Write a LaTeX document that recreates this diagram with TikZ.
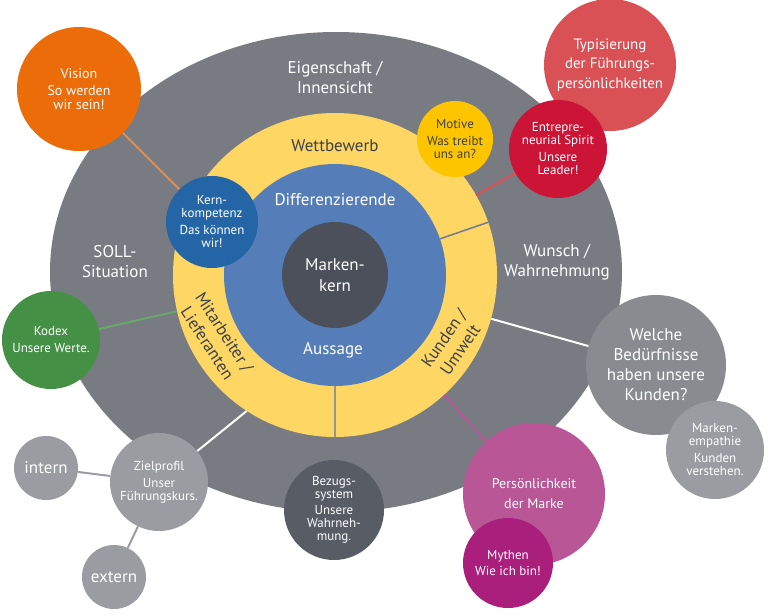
\documentclass[tikz,border=0pt]{standalone}
\usepackage{fontspec}
\setmainfont{PT Sans}
\usepackage{xcolor}
\definecolor{ellgray}{HTML}{797B83}
\definecolor{ringyellow}{HTML}{FDD663}
\definecolor{innerblue}{HTML}{557EB9}
\definecolor{coregray}{HTML}{4B505A}
\definecolor{darktext}{HTML}{3D4149}
\definecolor{visionorange}{HTML}{EC6C0A}
\definecolor{kernblue}{HTML}{2465A6}
\definecolor{kodexgreen}{HTML}{449146}
\definecolor{typred}{HTML}{D95155}
\definecolor{entrered}{HTML}{CC1436}
\definecolor{motiveyellow}{HTML}{FDC400}
\definecolor{welchegray}{HTML}{8A8B90}
\definecolor{lightgray}{HTML}{9B9CA1}
\definecolor{perspink}{HTML}{B85696}
\definecolor{mythenpurple}{HTML}{AB1F7C}
\definecolor{bezugsgray}{HTML}{575C65}
\definecolor{dividerblue}{HTML}{6D7A9B}
\tikzstyle{bubble} = [circle, inner sep=0pt, align=center, text=white, font=\fontsize{13}{13}\selectfont]
\tikzstyle{ringtext} = [align=center, text=white, font=\fontsize{17}{20}\selectfont]
\tikzstyle{link} = [line width=2pt, -]
\tikzstyle{divider} = [line width=1.5pt, dividerblue]

\begin{document}
\begin{tikzpicture}[x=1pt, y=-1pt]
    \useasboundingbox (0,0) rectangle (768,615);

    % Rings
    \fill[ellgray] (336,272) ellipse [x radius=286, y radius=240];
    \node[circle, fill=ringyellow, minimum size=324pt, inner sep=0pt] (ring) at (335,275) {};
    \node[circle, fill=innerblue, minimum size=222pt, inner sep=0pt] (diff) at (335,275) {};
    \node[bubble, fill=coregray, minimum size=106pt, font=\fontsize{17}{21}\selectfont] (core) at (335,275) {Marken-\\kern};
        \draw[divider] (diff.19) -- (ring.19);
        \draw[divider, ellgray!80] (diff.-90) -- (ring.-90);

    % Ring texts
    \node[ringtext] (eigen) at (335,78) {Eigenschaft /\\Innensicht};
    \node[ringtext] (soll) at (115,262) {SOLL-\\Situation};
    \node[ringtext] (wunsch) at (557,262) {Wunsch /\\Wahrnehmung};
    \node[ringtext, text=darktext] (wettb) at (335,146) {Wettbewerb};
    \node[ringtext] (differenz) at (335,200) {Differenzierende};
    \node[ringtext] (aussage) at (333,350) {Aussage};
    \node[ringtext, text=darktext, rotate=-57] (mitarb) at (216,338) {Mitarbeiter /\\Lieferanten};
    \node[ringtext, text=darktext, rotate=55] (kunden) at (452,344) {Kunden /\\Umwelt};

    % Bubbles
    \node[bubble, fill=visionorange, minimum size=124pt, font=\fontsize{14}{14}\selectfont] (vision) at (79,89) {Vision\\[3pt]So werden\\wir sein!};
    \node[bubble, fill=kernblue, minimum size=92pt] (kern) at (212,222) {Kern-\\kompetenz\\[4pt]Das k\"onnen\\wir!};
    \node[bubble, fill=kodexgreen, minimum size=98pt] (kodex) at (51,340) {Kodex\\[4pt]Unsere Werte.};
    \node[bubble, fill=typred, minimum size=132pt, font=\fontsize{15}{19.5}\selectfont] (typ) at (610,65) {Typisierung\\der F\"uhrungs-\\pers\"onlichkeiten};
    \node[bubble, fill=entrered, minimum size=98pt] (entre) at (558,149) {Entrepre-\\neurial Spirit\\[4pt]Unsere\\Leader!};
    \node[bubble, fill=motiveyellow, minimum size=76pt, text=darktext] (motive) at (455,139) {Motive\\[4pt]Was treibt\\uns an?};
    \node[bubble, fill=welchegray, minimum size=140pt, font=\fontsize{17}{20}\selectfont] (welche) at (656,365) {Welche\\Bed\"urfnisse\\haben unsere\\Kunden?};
    \node[bubble, fill=lightgray, minimum size=98pt] (empathie) at (715,450) {Marken-\\empathie\\[4pt]Kunden\\verstehen.};
    \node[bubble, fill=perspink, minimum size=142pt, font=\fontsize{14}{20}\selectfont] (pers) at (534,494) {Pers\"onlichkeit\\der Marke};
    \node[bubble, fill=mythenpurple, minimum size=90pt] (mythen) at (508,563) {Mythen\\[3pt]Wie ich bin!};
    \node[bubble, fill=bezugsgray, minimum size=100pt] (bezugs) at (334,510) {Bezugs-\\system\\[3pt]Unsere\\Wahrneh-\\mung.};
    \node[bubble, fill=lightgray, minimum size=98pt] (ziel) at (159,482) {Zielprofil\\[4pt]Unser\\F\"uhrungskurs.};
    \node[bubble, fill=lightgray, minimum size=64pt, font=\fontsize{17}{20}\selectfont] (intern) at (46,468) {intern};
    \node[bubble, fill=lightgray, minimum size=64pt, font=\fontsize{17}{20}\selectfont] (extern) at (114,577) {extern};

    % Links
    \draw[link, visionorange!80] (vision) -- (kern);
    \draw[link, typred] (ring) -- (entre);
    \draw[link, kodexgreen!80] (kodex) -- (ring);
    \draw[link, white] (ring.237) -- (ziel);
    \draw[link, white] (ring) -- (welche);
    \draw[link, perspink] (ring) -- (pers);
    \draw[link, lightgray] (intern) -- (ziel);
    \draw[link, lightgray] (ziel) -- (extern);

\end{tikzpicture}
\end{document}
